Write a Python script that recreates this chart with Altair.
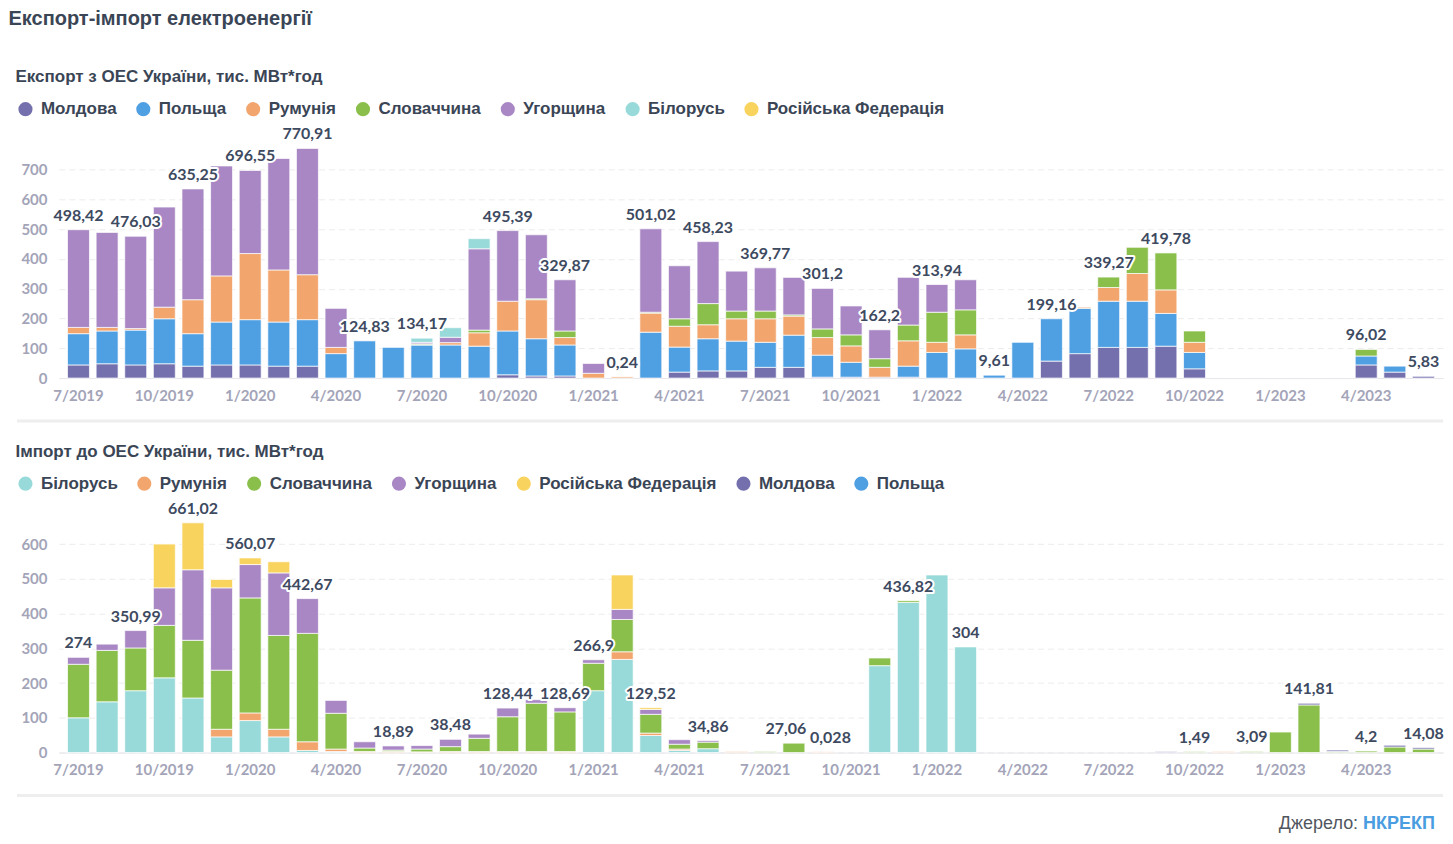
import altair as alt
import pandas as pd

# ---------------- data ----------------
months = [f"{m}/{y}" for y, ms in [(2019, range(7, 13)), (2020, range(1, 13)), (2021, range(1, 13)),
                                     (2022, range(1, 13)), (2023, range(1, 7))] for m in ms]
tick_months = [m for m in months if m.split("/")[0] in ("1", "4", "7", "10")]

# Export from Ukraine's IPS (thousand MWh), stacked bottom -> top
exp_countries = ["Молдова", "Польща", "Румунія", "Словаччина", "Угорщина", "Білорусь", "Російська Федерація"]
exp_colors = ["#7470ae", "#4f9fe3", "#f2a66e", "#8abf4b", "#a887c4", "#98dad9", "#f8d35e"]
exp_moldova = [44, 48, 44, 48, 40, 44, 44, 40, 40, 0, 0, 0, 0, 0, 0, 11, 7, 7, 0, 0, 0, 20, 24, 24,
               36, 36, 3, 3, 3, 3, 0, 0, 0, 0, 57, 82, 103, 103, 107, 31, 0, 0, 0, 0, 0, 44, 20, 5.83]
exp_poland = [105, 110, 117, 151, 109, 144, 152, 148, 156, 82, 124.83, 103, 111, 111, 107, 147, 125, 104, 0, 0, 154, 84, 108, 100,
              84, 108, 74, 50, 0, 37, 86, 98, 9.61, 120, 142, 152, 155, 155, 110, 55, 0, 0, 0, 0, 0, 30, 20, 0]
exp_romania = [21, 12, 5, 39, 114, 155, 222, 175, 151, 21, 0, 0, 1, 8, 45, 100, 131, 25, 16, 4, 64, 70, 47, 75,
               79, 64, 59, 55, 33, 85, 34, 47, 0, 0, 0, 4, 46, 93, 79, 34, 0, 0, 0, 0, 0, 0, 0, 0]
exp_slovakia = [0, 0, 0, 0, 0, 0, 0, 0, 0, 0, 0, 0, 3, 0, 9, 0, 3, 22, 0, 0, 3, 25, 71, 26,
                26, 4, 29, 37, 29, 53, 101, 84, 0, 0, 0, 0, 35, 88, 124, 38, 0, 0, 0, 0, 0, 22, 0, 0]
exp_hungary = [328, 319, 310, 336, 372, 369, 279, 374, 424, 131, 0, 0, 5, 18, 273, 237, 215, 172, 33, 0, 280, 178, 208, 134,
               145, 126, 136, 97, 97, 160, 93, 101, 0, 0, 0, 0, 0, 0, 0, 0, 0, 0, 0, 0, 0, 0, 0, 0]
exp_belarus = [0, 0, 0, 0, 0, 0, 0, 0, 0, 0, 0, 0, 14, 32, 34, 0, 0, 0, 0, 0, 0, 0, 0, 0,
               0, 0, 0, 0, 0, 0, 0, 0, 0, 0, 0, 0, 0, 0, 0, 0, 0, 0, 0, 0, 0, 0, 0, 0]
exp_russia = [0] * 48
exp_label_months = ["7/2019", "9/2019", "11/2019", "1/2020", "3/2020", "5/2020", "7/2020", "10/2020", "12/2020",
                    "2/2021", "3/2021", "5/2021", "7/2021", "9/2021", "11/2021", "1/2022", "3/2022", "5/2022",
                    "7/2022", "9/2022", "4/2023", "6/2023"]
exp_label_texts = ["498,42", "476,03", "635,25", "696,55", "770,91", "124,83", "134,17", "495,39", "329,87",
                   "0,24", "501,02", "458,23", "369,77", "301,2", "162,2", "313,94", "9,61", "199,16",
                   "339,27", "419,78", "96,02", "5,83"]

# Import to Ukraine's IPS (thousand MWh), stacked bottom -> top
imp_countries = ["Білорусь", "Румунія", "Словаччина", "Угорщина", "Російська Федерація", "Молдова", "Польща"]
imp_colors = ["#98dad9", "#f2a66e", "#8abf4b", "#a887c4", "#f8d35e", "#7470ae", "#4f9fe3"]
imp_belarus = [100, 146, 178, 215, 157, 45, 92, 45, 6, 3, 0, 0, 0, 0, 0, 0, 0, 0, 178, 268, 49, 6, 11, 0,
               0, 0, 0, 0, 250, 432, 511, 304, 0, 0, 0, 0, 0, 0, 0, 0, 0, 0, 0, 0, 0, 0, 0, 0]
imp_romania = [0, 0, 0, 0, 0, 22, 22, 22, 25, 7, 3, 3, 2, 3, 3, 3, 3, 3, 0, 22, 7, 4, 0, 3,
               0, 0, 2, 0, 0, 0, 0, 0, 0, 0, 0, 0, 0, 0, 0, 0, 2.5, 0, 0, 0, 0, 0, 0, 0]
imp_slovakia = [154, 148, 123, 151, 166, 170, 331, 270, 312, 103, 10, 4, 8, 14, 38, 100, 139, 114, 79, 93, 54, 14, 19, 0,
                3, 27, 0, 0, 22, 4.8, 0, 0, 0, 0, 0, 0, 0, 0, 0, 2.5, 0, 3.09, 59, 137, 3, 4.2, 16, 10]
imp_hungary = [20, 18, 50, 108, 203, 237, 96, 180, 100, 37, 18, 12, 10, 21, 12, 25, 10, 12, 10, 29, 14, 13, 4.5, 0,
               0, 0, 0, 0, 0, 0, 0, 0, 0, 0, 0, 0, 0, 0, 0, 0, 0, 0, 0, 0, 0, 0, 0, 0]
imp_russia = [0, 0, 0, 126, 135, 24, 19, 32, 0, 0, 0, 0, 0, 0, 0, 0, 0, 0, 0, 99, 5, 0, 0, 0,
              0, 0, 0, 0, 0, 0, 0, 0, 0, 0, 0, 0, 0, 0, 0, 0, 0, 0, 0, 0, 0, 0, 0, 0]
imp_moldova = [0, 0, 0, 0, 0, 0, 0, 0, 0, 0, 0, 0, 0, 0, 0, 0, 0, 0, 0, 0, 0, 0, 0, 0,
               0, 0, 0, 0, 0, 0, 0, 0, 0, 0, 0, 0, 0, 0, 2.5, 0, 0, 0, 0, 4.8, 4, 0, 5, 4]
imp_poland = [0] * 48
imp_label_months = ["7/2019", "9/2019", "11/2019", "1/2020", "3/2020", "6/2020", "8/2020", "10/2020", "12/2020",
                    "1/2021", "3/2021", "5/2021", "8/2021", "9/2021", "12/2021", "2/2022", "10/2022", "12/2022",
                    "2/2023", "4/2023", "6/2023"]
imp_label_texts = ["274", "350,99", "661,02", "560,07", "442,67", "18,89", "38,48", "128,44", "128,69",
                   "266,9", "129,52", "34,86", "27,06", "0,028", "436,82", "304", "1,49", "3,09",
                   "141,81", "4,2", "14,08"]
# small horizontal nudges so neighbouring labels do not collide
imp_label_nudge = {"8/2021": -8, "9/2021": 8}

EXP_SERIES = [exp_moldova, exp_poland, exp_romania, exp_slovakia, exp_hungary, exp_belarus, exp_russia]
IMP_SERIES = [imp_belarus, imp_romania, imp_slovakia, imp_hungary, imp_russia, imp_moldova, imp_poland]

# ---------------- style ----------------
W, H = 1386, 230
DARK = "#3a4555"
LABEL_DARK = "#3d4a5f"
AXIS_GRAY = "#a3a4b8"
TITLE_FONT = "Liberation Sans"
NUM_FONT = "Lato"


def long_table(countries, series):
    rows = []
    for ci, (c, vals) in enumerate(zip(countries, series)):
        for mi, v in enumerate(vals):
            if v:
                rows.append({"m": months[mi], "c": c, "v": v, "ord": ci})
    return pd.DataFrame(rows)


def label_table(series, lab_months, lab_texts, nudge):
    totals = [sum(s[i] for s in series) for i in range(len(months))]
    return pd.DataFrame({"m": lab_months, "t": lab_texts,
                         "tot": [totals[months.index(m)] for m in lab_months],
                         "dx": [nudge.get(m, 0) for m in lab_months]})


def panel(title, countries, colors, series, lab_months, lab_texts, ymax, yticks, nudge=None, extra=None):
    df = long_table(countries, series)
    lab = label_table(series, lab_months, lab_texts, nudge or {})
    xaxis = alt.Axis(values=tick_months, labelAngle=0, title=None, ticks=False,
                     domainColor="#e6e6ec", labelPadding=10, grid=False)
    yaxis = alt.Axis(values=yticks, tickCount=len(yticks), title=None, domain=False, ticks=False,
                     labelPadding=12, labelOverlap=False, grid=True, gridDash=[6, 4], gridColor="#ececec")
    xscale = alt.Scale(domain=months, paddingInner=0.233, paddingOuter=0.3)
    yscale = alt.Scale(domain=[0, ymax], nice=False, zero=True)
    bars = alt.Chart(df).mark_bar(stroke="white", strokeWidth=1, strokeOpacity=0.7).encode(
        x=alt.X("m:N", sort=months, scale=xscale, axis=xaxis),
        y=alt.Y("v:Q", stack="zero", scale=yscale, axis=yaxis),
        color=alt.Color("c:N", scale=alt.Scale(domain=countries, range=colors),
                        legend=alt.Legend(orient="none", legendX=-42, legendY=-48, direction="horizontal",
                                          title=None, symbolType="circle", symbolSize=200,
                                          symbolStrokeWidth=0, labelFontSize=17, labelFont=TITLE_FONT,
                                          labelFontWeight="bold", labelColor=DARK, columnPadding=18,
                                          labelOffset=7, padding=0, labelLimit=0)),
        order=alt.Order("ord:Q", sort="ascending"),
    )
    layers = [bars]
    for shift in sorted(set(lab["dx"])):
        sub = lab[lab["dx"] == shift]
        base_txt = alt.Chart(sub).encode(
            x=alt.X("m:N", sort=months, scale=xscale, axis=xaxis),
            y=alt.Y("tot:Q", stack=None, scale=yscale, axis=yaxis),
            text="t:N",
        )
        halo = base_txt.mark_text(font=NUM_FONT, fontSize=16, fontWeight="bold", baseline="alphabetic",
                                  dy=-9, dx=int(shift), stroke="white", strokeWidth=4, strokeJoin="round",
                                  color="white")
        txt = base_txt.mark_text(font=NUM_FONT, fontSize=16, fontWeight="bold", baseline="alphabetic",
                                 dy=-9, dx=int(shift), color=LABEL_DARK)
        layers += [halo, txt]
    sep = alt.Chart(pd.DataFrame({"k": [0]})).mark_rule(color="#eeeeee", strokeWidth=3).encode(
        x=alt.value(-42), x2=alt.value(1386), y=alt.value(273))
    layers.append(sep)
    if extra:
        layers += extra
    return alt.layer(*layers).properties(
        width=W, height=H,
        title=alt.TitleParams(title, anchor="start", fontSize=17, font=TITLE_FONT, fontWeight="bold",
                              color=DARK, offset=14))


src1 = alt.Chart(pd.DataFrame({"k": [0]})).mark_text(
    text="Джерело:", align="right", baseline="alphabetic", font=TITLE_FONT, fontSize=18,
    color="#505660").encode(x=alt.value(1301), y=alt.value(307))
src2 = alt.Chart(pd.DataFrame({"k": [0]})).mark_text(
    text="НКРЕКП", align="left", baseline="alphabetic", font=TITLE_FONT, fontSize=18, fontWeight="bold",
    color="#4a9de0").encode(x=alt.value(1306), y=alt.value(307))

p1 = panel("Експорт з ОЕС України, тис. МВт*год", exp_countries, exp_colors, EXP_SERIES,
           exp_label_months, exp_label_texts, 771, list(range(0, 701, 100)))
p2 = panel("Імпорт до ОЕС України, тис. МВт*год", imp_countries, imp_colors, IMP_SERIES,
           imp_label_months, imp_label_texts, 661, list(range(0, 601, 100)),
           nudge=imp_label_nudge, extra=[src1, src2])

chart = alt.vconcat(p1, p2, spacing=20).resolve_scale(color="independent").properties(
    title=alt.TitleParams("Експорт-імпорт електроенергії", anchor="start", dx=-7, fontSize=20,
                          font=TITLE_FONT, fontWeight="bold", color=DARK, offset=40),
    padding={"left": 0, "top": 0, "right": 0, "bottom": 0},
    background="white",
).configure_view(stroke=None).configure_axis(
    labelFont=NUM_FONT, labelFontSize=15, labelFontWeight="bold", labelColor=AXIS_GRAY
)

chart.save("out.html", embed_options={"renderer": "svg", "actions": False})
